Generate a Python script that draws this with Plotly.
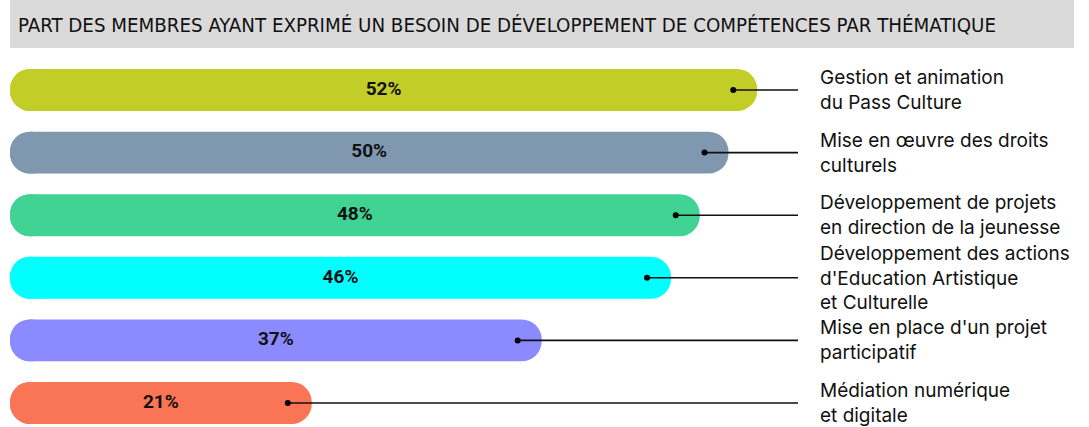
import plotly.graph_objects as go

title = "PART DES MEMBRES AYANT EXPRIMÉ UN BESOIN DE DÉVELOPPEMENT DE COMPÉTENCES PAR THÉMATIQUE"
categories = [
    "Gestion et animation<br>du Pass Culture",
    "Mise en œuvre des droits<br>culturels",
    "Développement de projets<br>en direction de la jeunesse",
    "Développement des actions<br>d'Education Artistique<br>et Culturelle",
    "Mise en place d'un projet<br>participatif",
    "Médiation numérique<br>et digitale",
]
values = [52, 50, 48, 46, 37, 21]
colors = ["#C3CD28", "#7F97AF", "#40D394", "#00FFFF", "#8B8BFF", "#FA7556"]

W, H = 1089, 427
px_per_unit = 14.37
x0_px = 10
xr = [-x0_px / px_per_unit, (W - x0_px) / px_per_unit]
row_px = 62.6
first_px = 90
yr = [(H - first_px) / row_px, -first_px / row_px]

pos = list(range(len(values)))
cap = 24 / px_per_unit
radius_units = 2 * 21 / px_per_unit
line_end = (798 - x0_px) / px_per_unit
label_x = (818 - x0_px) / px_per_unit

fig = go.Figure()
# main bar (rounded right end)
fig.add_trace(go.Bar(
    y=pos, x=values, base=0,
    orientation="h", marker=dict(color=colors, cornerradius=21, line_width=0),
    width=0.67, hoverinfo="skip", showlegend=False))
# short bar to round the left end
fig.add_trace(go.Bar(
    y=pos, x=[-radius_units] * len(values), base=radius_units,
    orientation="h", marker=dict(color=colors, cornerradius=21, line_width=0),
    width=0.67, hoverinfo="skip", showlegend=False))

# leader lines and dots
for i, v in enumerate(values):
    fig.add_trace(go.Scatter(
        x=[v - cap, line_end], y=[i, i], mode="lines",
        line=dict(color="#111111", width=1.6), hoverinfo="skip", showlegend=False))
fig.add_trace(go.Scatter(
    x=[v - cap for v in values], y=pos, mode="markers",
    marker=dict(color="#000000", size=6), hoverinfo="skip", showlegend=False))

# value labels
fig.add_trace(go.Scatter(
    x=[v / 2 for v in values], y=pos, mode="text",
    text=[f"<b>{v}%</b>" for v in values],
    textfont=dict(family="Roboto", size=19, color="#111111"),
    hoverinfo="skip", showlegend=False))

for i, c in enumerate(categories):
    fig.add_annotation(
        x=label_x, y=i, text=c, showarrow=False, xanchor="left", yanchor="middle",
        align="left", font=dict(family="Inter", size=19, color="#111111"))

fig.add_shape(type="rect", xref="paper", yref="paper",
              x0=10 / W, x1=1074 / W, y0=1 - 48 / H, y1=1,
              fillcolor="#DADADA", line_width=0, layer="below")
fig.add_annotation(
    xref="paper", yref="paper", x=16 / W, y=1 - 25 / H, text=title,
    showarrow=False, xanchor="left", yanchor="middle",
    font=dict(family="DejaVu Sans Condensed", size=20.3, color="#111111"))

fig.update_layout(
    width=W, height=H, margin=dict(l=0, r=0, t=0, b=0),
    paper_bgcolor="white", plot_bgcolor="white", barmode="overlay",
    xaxis=dict(range=xr, visible=False, fixedrange=True),
    yaxis=dict(range=yr, visible=False, fixedrange=True),
)
fig.write_html("out.html", config={"displayModeBar": False},
               post_script="document.body.style.margin='0';document.body.style.overflow='hidden';")
